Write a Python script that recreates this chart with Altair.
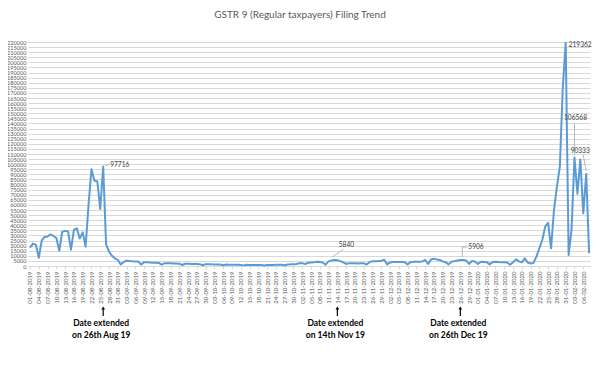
import altair as alt
import pandas as pd

TITLE = "GSTR 9 (Regular taxpayers) Filing Trend"
START_DATE = "2019-08-01"

# Daily filings, 01-08-2019 .. 08-02-2020
aug = [18000, 22000, 21000, 8000, 25000, 28500, 29000, 31000, 29500, 27500,
       15000, 33500, 34500, 34000, 16000, 35500, 37000, 27000, 33000, 19000,
       60000, 95000, 84000, 83000, 56000, 97716, 21000, 14000, 10000, 7500, 6000]
sep = [1500, 4000, 5200, 4800, 4600, 4500, 4300, 1500, 3800, 3600,
       3400, 3300, 3200, 3000, 1300, 2800, 2700, 2600, 2500, 2400,
       2300, 1000, 2200, 2100, 2000, 2000, 1900, 1800, 800, 1800]
oct_ = [1700, 1600, 1500, 1500, 1400, 700, 1400, 1300, 1300, 1200,
        1200, 1100, 600, 1200, 1100, 1100, 1000, 1000, 1000, 500,
        1000, 1100, 1100, 1200, 1200, 1300, 700, 1500, 1600, 1800, 2000]
nov = [2600, 2800, 1800, 3200, 3500, 3800, 4200, 4000, 3500, 1300,
       4500, 5500, 5840, 5600, 4800, 3500, 2000, 2800, 2700, 2600,
       2500, 2700, 2600, 1500, 3800, 4600, 4700, 4800, 5000, 6200]
dec = [1600, 3500, 3900, 3900, 4000, 3900, 3700, 1600, 3800, 4200,
       4200, 4100, 4300, 5900, 2000, 6500, 7200, 6300, 5900, 4500,
       3800, 1600, 4200, 4800, 5400, 5906, 5800, 5500, 2000, 4900, 4500]
jan = [2000, 4200, 4000, 3800, 1600, 3800, 4200, 3900, 3700, 3600,
       3500, 1200, 3600, 6500, 4500, 3600, 7500, 3500, 2500, 3000,
       9200, 17400, 25500, 38600, 42500, 17400, 55000, 78000, 97500, 175000, 219362]
feb = [10800, 36000, 106568, 71000, 104500, 51700, 90333, 12500]

values = aug + sep + oct_ + nov + dec + jan + feb
start = pd.Timestamp(START_DATE)
days = list(range(len(values)))          # category index, one per day
df = pd.DataFrame({"day": days, "filings": values})

x_ticks = list(range(0, 190, 3))         # every third date is labelled
y_ticks = list(range(0, 220001, 5000))

# labelled points: (index, dx, dy, align, leader segments)
labelled = [
    (25, 7, -2, "left", [(2, -1, 6, -2)]),
    (104, 12, -15, "center", [(-2, -3, 9, -11)]),
    (147, 8, -13, "left", [(2, -3, 2, -13), (2, -13, 7, -13)]),
    (183, 3, 2, "left", []),
    (186, 1, -39, "center", [(0, -3, 0, -34)]),
    (190, -6, -23, "center", [(-3, -19, 0, -3)]),
]

# "Date extended" notes
note_dates = ["2019-08-26", "2019-11-14", "2019-12-26"]
note_texts = ["Date extended\non 26th Aug 19", "Date extended\non 14th Nov 19",
              "Date extended\non 26th Dec 19"]
note_days = [(pd.Timestamp(d) - start).days for d in note_dates]

x_scale = alt.Scale(domain=[-0.68, 191.3], nice=False, zero=False)
y_scale = alt.Scale(domain=[0, 220000], nice=False)

x_axis = alt.Axis(values=x_ticks,
                  labelExpr="timeFormat(datetime(2019, 7, 1 + datum.value), '%d-%m-%Y')",
                  labelAngle=270, labelFontSize=6, labelColor="#595959",
                  labelOverlap=False, labelFlush=False, grid=False,
                  domainColor="#d9d9d9", tickColor="#d9d9d9", tickSize=3,
                  labelPadding=2, title=None)
y_axis = alt.Axis(values=y_ticks, format="d", labelFontSize=5.6, labelColor="#595959",
                  labelOverlap=False, labelFlush=False, grid=True,
                  gridColor="#d9d9d9", domain=False, ticks=False,
                  labelPadding=2, title=None)


def X(field="day"):
    return alt.X(f"{field}:Q", scale=x_scale, axis=x_axis)


def Y():
    return alt.Y("filings:Q", scale=y_scale, axis=y_axis)


line = alt.Chart(df).mark_line(color="#5B9BD5", strokeWidth=2, strokeJoin="round").encode(
    x=X(), y=Y())

layers = [line]
for idx, dx, dy, align, leaders in labelled:
    ldf = pd.DataFrame({"day": [days[idx]], "filings": [values[idx]],
                        "label": [str(values[idx])]})
    base = alt.Chart(ldf)
    layers.append(base.mark_text(dx=dx, dy=dy, align=align, baseline="middle",
                                 fontSize=6.6, color="#404040").encode(
        x=X(), y=Y(), text="label:N"))
    for (x1, y1, x2, y2) in leaders:
        layers.append(base.mark_rule(color="#a6a6a6", strokeWidth=0.8,
                                     xOffset=x1, yOffset=y1, x2Offset=x2, y2Offset=y2).encode(
            x=X(), y=Y(), x2="day:Q", y2="filings:Q"))

ndf = pd.DataFrame({"day": note_days, "note": note_texts})
notes = alt.Chart(ndf)
layers.append(notes.mark_text(lineBreak="\n", lineHeight=12, fontSize=8.5,
                              fontWeight="bold", color="#000000", align="center",
                              baseline="alphabetic", dx=-2).encode(
    x=X(), y=alt.value(284), text="note:N"))
layers.append(notes.mark_rule(color="#000000", strokeWidth=1.2).encode(
    x=X(), y=alt.value(266), y2=alt.value(274)))
layers.append(notes.mark_point(shape="triangle-up", filled=True, color="#000000",
                               size=14, opacity=1).encode(
    x=X(), y=alt.value(266)))

tdf = pd.DataFrame({"t": [TITLE]})
layers.append(alt.Chart(tdf).mark_text(fontSize=10, color="#595959", align="center",
                                       baseline="middle").encode(
    x=alt.value(272), y=alt.value(-27), text="t:N"))

chart = alt.layer(*layers).properties(
    width=562, height=224,
    autosize=alt.AutoSizeParams(type="none"),
    padding={"left": 20, "top": 34, "right": 2, "bottom": 100},
).configure(font="Lato", background="white").configure_view(stroke=None)

chart.save("out.html", embed_options={"renderer": "svg", "actions": False})
